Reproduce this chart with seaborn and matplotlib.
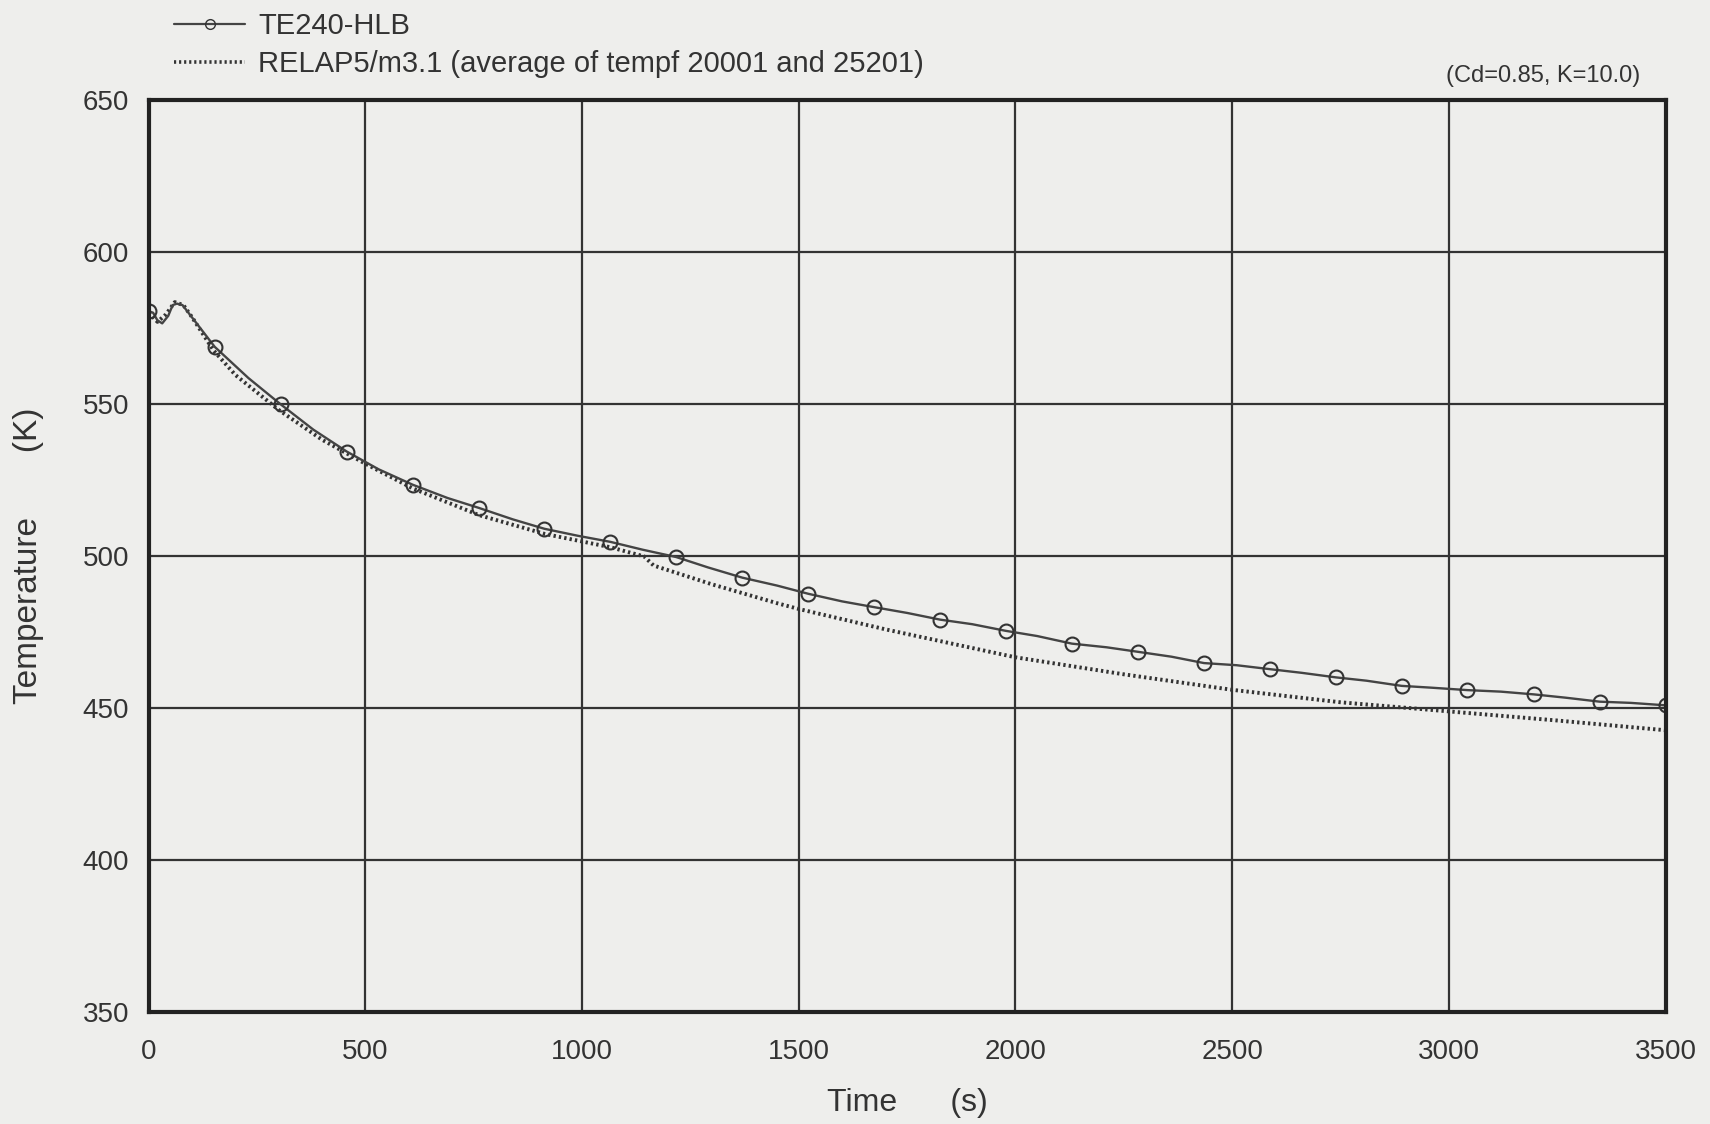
import numpy as np
import pandas as pd
import seaborn as sns
import matplotlib.pyplot as plt
from matplotlib.lines import Line2D

# TE240-HLB measured hot leg temperature (solid line, open circles)
exp_time = [0, 10, 20, 31, 45, 55, 65, 78, 152, 230, 304, 380, 457, 530, 609, 690, 761, 840,
            913, 990, 1065, 1140, 1217, 1290, 1370, 1450, 1522, 1600, 1674, 1750, 1826, 1900,
            1978, 2050, 2130, 2210, 2283, 2360, 2435, 2510, 2587, 2660, 2739, 2810, 2891, 2960,
            3043, 3120, 3196, 3270, 3348, 3420, 3500]
exp_temp = [580.5, 580, 577.5, 576.5, 579, 582.5, 583, 582.5, 568.8, 558.5, 549.9, 541.5, 534.3,
            528.5, 523.4, 519.0, 515.8, 512.0, 508.9, 506.6, 504.6, 502.0, 499.6, 496.2, 492.8,
            490.2, 487.5, 485.0, 483.1, 481.2, 479.0, 477.5, 475.3, 473.6, 471.1, 469.9, 468.4,
            466.8, 464.7, 464.0, 462.7, 461.5, 460.0, 458.9, 457.2, 456.6, 455.8, 455.3, 454.4,
            453.3, 452.0, 451.6, 450.8]
marker_idx = [0, 8, 10, 12, 14, 16, 18, 20, 22, 24, 26, 28, 30, 32, 34, 36, 38, 40, 42, 44,
              46, 48, 50, 52]

# RELAP5/m3.1 prediction (dotted line)
relap_time = [0, 20, 40, 60, 80, 100, 150, 200, 300, 400, 500, 609, 762, 914, 1066, 1143, 1165,
              1200, 1300, 1450, 1500, 1700, 2000, 2250, 2500, 2750, 3000, 3250, 3500]
relap_temp = [580, 577, 579.5, 583.5, 582.5, 578.5, 567.5, 559.5, 548, 538.2, 530.3, 522.2,
              513.4, 507.2, 502.8, 499.8, 496.8, 495.2, 490.6, 484.4, 482.5, 475.8, 466.6,
              461.0, 455.9, 451.8, 448.8, 445.8, 442.6]

xticks = [0, 500, 1000, 1500, 2000, 2500, 3000, 3500]
yticks = [350, 400, 450, 500, 550, 600, 650]

exp_df = pd.DataFrame({"time": exp_time, "temp": exp_temp})
relap_df = pd.DataFrame({"time": relap_time, "temp": relap_temp})

sns.set_theme(style="whitegrid")
plt.rcParams['font.family'] = ['Liberation Sans', 'DejaVu Sans']
bg = "#eeeeec"
ink = "#333333"

fig, ax = plt.subplots(figsize=(17.1, 11.24), dpi=100)
fig.patch.set_facecolor(bg)
ax.set_facecolor(bg)
fig.subplots_adjust(left=0.087, right=0.974, top=0.911, bottom=0.100)

sns.lineplot(data=relap_df, x="time", y="temp", ax=ax, color=ink, lw=2.8,
             linestyle=(0, (0.6, 0.8)), estimator=None, sort=False)
sns.lineplot(data=exp_df, x="time", y="temp", ax=ax, color="#444444", lw=1.7,
             marker="o", markersize=10, markerfacecolor="none", markeredgecolor=ink,
             markeredgewidth=1.5, markevery=marker_idx, estimator=None, sort=False)

ax.set_xlim(0, 3500)
ax.set_ylim(350, 650)
ax.set_xticks(xticks)
ax.set_yticks(yticks)
ax.grid(True, color=ink, lw=1.6)
ax.tick_params(length=0, labelsize=20, colors=ink)
ax.tick_params(axis="y", pad=14)
ax.tick_params(axis="x", pad=20)
for s in ax.spines.values():
    s.set_color("#222222")
    s.set_linewidth(3)

ax.set_xlabel("Time      (s)", fontsize=23, color=ink, labelpad=16)
ax.set_ylabel("Temperature       (K)", fontsize=24, color=ink, labelpad=28)

handles = [
    Line2D([], [], color="#444444", lw=1.6, marker="o", markersize=7,
           markerfacecolor="none", markeredgecolor=ink),
    Line2D([], [], color=ink, lw=2.6, linestyle=(0, (0.6, 0.8))),
]
labels = ["TE240-HLB", "RELAP5/m3.1 (average of tempf 20001 and 25201)"]
ax.legend(handles, labels, loc="lower left", bbox_to_anchor=(0.0165, 1.024), frameon=False,
          fontsize=21, handlelength=2.45, handletextpad=0.45, labelspacing=0.35,
          borderaxespad=0.0, borderpad=0.0, labelcolor=ink)

ax.text(0.983, 1.014, "(Cd=0.85, K=10.0)", transform=ax.transAxes, ha="right", va="bottom",
        fontsize=17, color=ink)

plt.savefig("out.png", dpi=100, facecolor=bg)
plt.close()
